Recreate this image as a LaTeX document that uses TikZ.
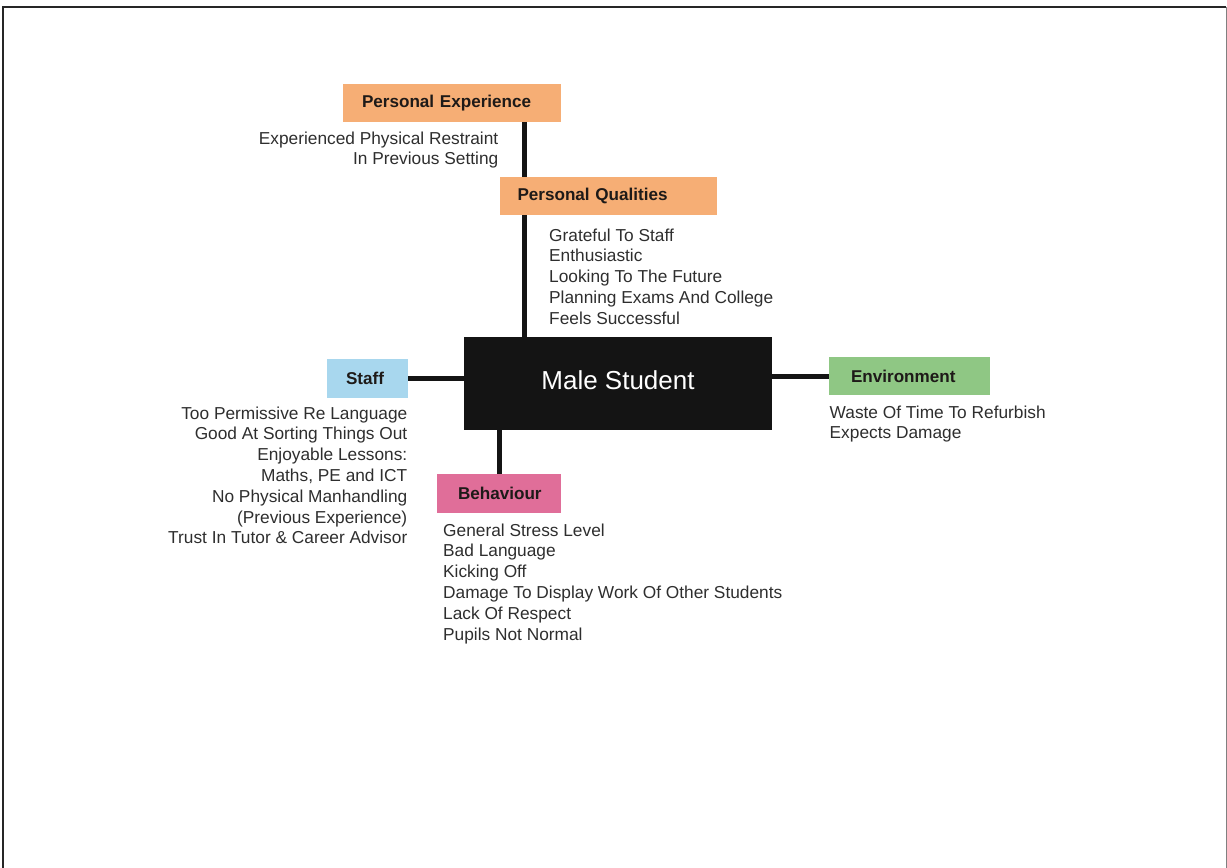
\documentclass[tikz,border=0pt]{standalone}
\usepackage{fontspec}
\setmainfont{Liberation Sans}
\begin{document}
\begin{tikzpicture}[x=1pt,y=-1pt,
  catbox/.style={fill=#1, draw=none, inner xsep=19pt, inner ysep=0pt, align=left,
    font=\fontsize{17.1}{20}\selectfont\bfseries, text=labelink, anchor=center},
  notes/.style={inner sep=0pt, font=\fontsize{17.3}{20.8}\selectfont, text=noteink},
  link/.style={draw=linkink, line width=5pt},
]
\definecolor{orangebox}{HTML}{F6AE75}
\definecolor{bluebox}{HTML}{A8D7EE}
\definecolor{greenbox}{HTML}{8FC784}
\definecolor{pinkbox}{HTML}{E06E99}
\definecolor{centrebox}{HTML}{141414}
\definecolor{linkink}{HTML}{141414}
\definecolor{labelink}{HTML}{1E1A18}
\definecolor{noteink}{HTML}{2E2E2E}

\useasboundingbox (0,0) rectangle (1227,868);

% page frame
\draw[line width=2pt, draw=black!85] (2.7,868) -- (2.7,7) -- (1226,7);
\draw[line width=1pt, draw=black!50] (1226,7) -- (1226,868);

% spine coordinates
\coordinate (spine) at (524.5,0);

% central box
\node[fill=centrebox, minimum width=308pt, minimum height=93pt, inner sep=0pt,
      text=white, font=\fontsize{26}{30}\selectfont, text depth=7pt]
  (ms) at (618,383.5) {Male Student};

% category boxes
\node[catbox=orangebox, text width=180pt, minimum height=38pt] (pe) at (452,103) {Personal Experience};
\node[catbox=orangebox, text width=181pt, minimum height=38pt, inner xsep=18pt] (pq) at (608,196) {Personal Qualities};
\node[catbox=bluebox, text width=43pt, minimum height=39pt] (staff) at (367.5,378.5) {Staff};
\node[catbox=greenbox, text width=117pt, minimum height=38pt, inner xsep=22pt] (env) at (909.5,376) {Environment};
\node[catbox=pinkbox, text width=82pt, minimum height=39pt, inner xsep=21pt] (beh) at (499,493.5) {Behaviour};

% connectors
\draw[link] (pe.south -| spine) -- (pq.north -| spine);
\draw[link] (pq.south -| spine) -- (ms.north -| spine);
\draw[link] (staff.east) -- (staff.east -| ms.west);
\draw[link] (env.west) -- (env.west -| ms.east);
\draw[link] (beh.north) -- (beh.north |- ms.south);

% notes under each category
\node[notes, align=right, anchor=north east] (penotes) at (498.5,131.4)
  {Experienced Physical Restraint\\In Previous Setting};
\node[notes, align=left, anchor=north west] (pqnotes) at (549,228.4)
  {Grateful To Staff\\Enthusiastic\\Looking To The Future\\Planning Exams And College\\Feels Successful};
\node[notes, align=right, anchor=north east] (staffnotes) at (407.5,406.4)
  {Too Permissive Re Language\\Good At Sorting Things Out\\Enjoyable Lessons:\\Maths, PE and ICT\\No Physical Manhandling\\(Previous Experience)\\Trust In Tutor \& Career Advisor};
\node[notes, align=left, anchor=north west] (envnotes) at (829.5,405.4)
  {Waste Of Time To Refurbish\\Expects Damage};
\node[notes, align=left, anchor=north west] (behnotes) at (443,523.4)
  {General Stress Level\\Bad Language\\Kicking Off\\Damage To Display Work Of Other Students\\Lack Of Respect\\Pupils Not Normal};
\end{tikzpicture}
\end{document}
